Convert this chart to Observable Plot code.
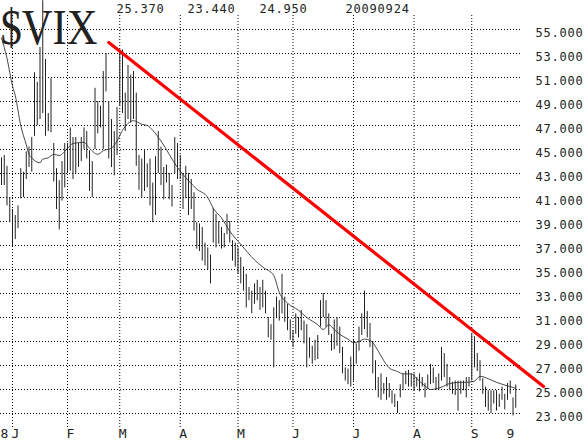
<!DOCTYPE html>
<html><head><meta charset="utf-8">
<script src="https://cdn.jsdelivr.net/npm/d3@7"></script>
<script src="https://cdn.jsdelivr.net/npm/@observablehq/plot@0.6"></script>
<style>
body{margin:0;background:#fff;}
</style></head><body><div id="chart"></div>
<script>
// Daily $VIX bars (trading-day index 0 = late Dec 2008 ... 187 = 2009-09-24)
const high = [44.3,44.5,43.6,41.0,40.0,39.5,40.3,43.4,43.1,44.8,45.2,46.0,51.4,50.6,53.5,57.4,52.5,48.0,50.9,45.5,
43.4,42.4,44.0,45.5,45.5,46.8,46.0,46.0,45.5,46.0,46.8,46.5,44.9,44.0,50.1,49.0,48.6,51.5,53.0,49.0,
47.5,46.5,48.5,53.1,53.3,49.7,52.0,51.2,51.5,49.7,44.5,44.2,45.0,43.8,44.2,42.2,44.4,46.5,45.2,43.5,
43.7,43.0,42.0,46.0,45.5,44.5,43.0,43.6,43.0,42.5,41.4,38.9,38.8,38.5,37.2,36.8,36.2,40.1,39.6,39.0,
38.5,38.0,39.6,39.0,37.4,37.2,36.8,36.0,35.2,34.6,33.5,33.2,33.8,34.1,33.5,34.1,33.2,31.0,30.4,31.8,
32.7,32.4,34.6,32.7,32.1,30.8,29.9,31.3,31.0,31.6,30.7,30.4,29.3,28.6,29.1,29.5,32.4,33.0,32.4,31.3,
29.6,30.8,31.0,30.2,28.5,26.8,26.7,27.7,29.1,28.8,30.2,31.3,33.2,31.5,30.5,29.0,27.4,26.0,26.3,25.5,
26.0,25.5,24.9,24.6,24.0,25.4,26.3,26.5,26.6,26.3,26.3,26.0,26.3,26.0,25.5,26.2,27.1,26.8,26.0,26.3,
28.5,28.0,27.1,26.0,25.6,25.7,25.7,25.7,25.7,26.0,26.0,29.6,29.4,28.0,27.4,25.9,25.2,24.9,24.9,24.9,
24.9,24.6,25.2,24.6,25.5,25.7,24.3,25.37];
const low = [42.0,42.0,40.3,38.9,37.0,37.5,38.4,40.9,41.0,42.5,43.5,43.1,46.1,47.0,47.5,48.0,46.1,46.5,46.4,42.3,
40.0,38.3,40.7,41.8,43.0,43.2,42.5,43.0,43.5,44.0,45.0,44.2,41.5,41.0,45.0,46.3,46.8,45.0,49.8,44.2,
43.5,42.8,44.5,48.6,48.0,46.5,47.5,47.2,47.5,43.6,41.6,40.9,41.5,41.8,40.3,38.9,39.5,43.0,42.0,40.8,
42.2,40.8,40.2,43.0,42.5,42.5,40.0,40.9,39.5,40.0,38.2,36.7,36.5,35.7,35.3,35.0,33.8,37.2,36.8,37.1,
36.7,36.8,37.9,37.2,35.7,35.2,34.6,33.8,33.2,31.8,32.4,31.3,32.1,32.4,31.6,31.8,31.3,29.3,29.1,26.8,
31.0,30.7,31.3,30.6,29.9,29.1,28.5,29.6,29.3,29.9,28.8,26.8,27.6,27.1,27.4,27.5,30.2,31.0,30.2,29.5,
28.2,28.3,28.6,28.0,26.3,25.7,25.4,25.2,25.7,27.1,28.2,29.5,30.0,29.3,28.5,26.3,24.9,24.3,24.1,24.6,
24.1,24.3,23.8,23.5,23.0,24.3,24.9,25.4,25.2,25.2,24.9,25.2,24.8,25.2,24.3,25.0,25.4,25.5,24.9,24.9,
25.7,26.0,25.2,24.9,24.6,24.5,23.2,24.6,24.9,24.3,25.2,25.7,26.8,26.5,25.7,24.6,23.5,23.2,23.0,23.8,
23.2,23.5,24.1,23.3,24.1,24.6,22.8,23.44];
// Moving average
const maDay = [0,2,4,5,7,9,10,11,14,15,17,19,21,24,26,30,32,35,37,40,42,44,48,51,53,55,58,64,68,71,
75,77,80,83,87,92,95,99,101,104,108,111,115,117,119,121,123,126,128,130,132,134,137,139,141,144,146,149,151,154,
156,160,163,167,169,172,174,177,180,184,187];
const maValue = [54.3,52.6,50.3,49.5,47.0,45.4,44.6,44.3,43.9,44.2,44.3,44.6,44.5,45.1,45.5,45.6,45.1,44.6,44.9,45.1,
45.7,46.6,47.4,47.1,47.0,46.6,45.7,43.5,42.4,41.7,41.0,40.1,39.3,38.2,37.1,35.8,35.2,34.5,33.1,32.2,
31.6,31.0,30.4,30.0,30.4,30.0,29.6,29.2,28.9,29.0,29.2,29.1,28.2,27.4,26.8,26.5,26.3,26.3,25.9,25.3,
25.0,25.2,25.5,25.6,25.6,25.7,26.1,25.9,25.6,25.3,25.1];
// Red trend line endpoints
const trendDay = [39.0, 197.1];
const trendValue = [53.92, 25.25];
// Axis labels
const monthDay = [4,24,43,65,86,106,128,150,171];
const monthLabel = ["J","F","M","A","M","J","J","A","S"];
const edgeDay = [0,184];
const edgeLabel = ["8","9"];
const yTicks = [23,25,27,29,31,33,35,37,39,41,43,45,47,49,51,53,55];
const quoteLabels = ["25.370","23.440","24.950","20090924"];
const quoteDx = [116,187,259,345];

const bars = high.map((h,i)=>({day:i, high:h, low:low[i]}));
const ma = maDay.map((d,i)=>({day:d, value:maValue[i]}));
const trend = trendDay.map((d,i)=>({day:d, value:trendValue[i]}));
const monoFont = "DejaVu Sans Mono";

const chart = Plot.plot({
  width:588, height:441,
  marginLeft:0, marginRight:67, marginTop:15, marginBottom:14,
  x:{type:"linear", domain:[0,187], range:[1,515.25], axis:null},
  y:{domain:[23,55], range:[413,29], axis:null},
  style:{background:"white", overflow:"visible"},
  marks:[
    Plot.ruleY(yTicks, {y:d=>d, stroke:"#000", strokeDasharray:"1,2"}),
    Plot.ruleX(monthDay, {x:d=>d, stroke:"#000", strokeDasharray:"1,2"}),
    Plot.text(["$VIX"], {frameAnchor:"top-left", dx:0, dy:28, lineAnchor:"bottom", textAnchor:"start",
      fontSize:51, fontFamily:"Liberation Serif", fill:"#222"}),
    Plot.ruleX(bars, {x:"day", y1:"low", y2:"high", stroke:"#222", strokeWidth:1}),
    Plot.line(ma, {x:"day", y:"value", stroke:"#333", strokeWidth:0.9, curve:"monotone-x"}),
    Plot.line(trend, {x:"day", y:"value", stroke:"#ff0000", strokeWidth:3.2}),
    Plot.text(yTicks, {y:d=>d, frameAnchor:"right", dx:14, dy:7.5, textAnchor:"start", lineAnchor:"bottom",
      text:d=>d.toFixed(3), fontFamily:monoFont, fontSize:12, fill:"#222"}),
    Plot.text(monthDay, {x:d=>d, text:(d,i)=>monthLabel[i], frameAnchor:"bottom", dy:10, lineAnchor:"bottom",
      textAnchor:"start", dx:-1, fontSize:13, fontFamily:monoFont, fill:"#222"}),
    Plot.text(edgeDay, {x:d=>d, text:(d,i)=>edgeLabel[i], frameAnchor:"bottom", dy:10, lineAnchor:"bottom",
      textAnchor:"start", dx:-1, fontSize:13, fontFamily:monoFont, fill:"#222"}),
    ...quoteLabels.map((t,k)=>Plot.text([t], {frameAnchor:"top-left", dx:quoteDx[k], dy:-2.7, lineAnchor:"bottom",
      textAnchor:"start", fontSize:12, fontFamily:monoFont, fill:"#222"}))
  ]
});
document.getElementById("chart").appendChild(chart);
for (const t of chart.querySelectorAll("text")) {
  const s = t.textContent;
  if (s === "$VIX") { t.setAttribute("textLength","97"); t.setAttribute("lengthAdjust","spacingAndGlyphs"); }
  else if (/^[0-9.]+$/.test(s) && s.length > 1) { t.style.letterSpacing = "0.8px"; }
}
</script></body></html>
